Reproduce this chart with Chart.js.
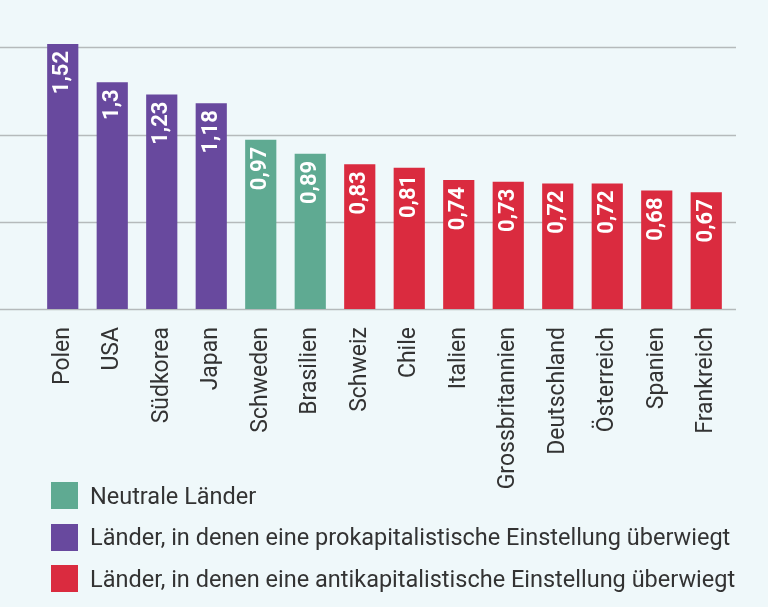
<!DOCTYPE html>
<html>
<head>
    <title>Einstellung zum Kapitalismus</title>
    <script src="https://cdn.jsdelivr.net/npm/chart.js@4.4.1/dist/chart.umd.min.js"></script>
    <style>
        body {
            margin: 0;
            background-color: #eff8fa;
            font-family: Roboto, "Noto Sans", sans-serif;
            color: #333;
        }
        .chart-wrapper {
            position: relative;
            width: 768px;
            height: 500px;
        }
        .legend {
            position: absolute;
            left: 51px;
            top: 482px;
        }
        .legend-item {
            display: flex;
            align-items: center;
            height: 27px;
            margin-bottom: 14.5px;
            font-size: 23.5px;
            color: #333;
        }
        .legend-box {
            width: 27px;
            height: 27px;
            margin-right: 12px;
        }
    </style>
</head>
<body>
    <div class="chart-wrapper">
        <canvas id="chart"></canvas>
    </div>
    <div class="legend" id="legend"></div>

    <script>
        // Data
        const countries = ['Polen', 'USA', 'Südkorea', 'Japan', 'Schweden', 'Brasilien', 'Schweiz', 'Chile',
            'Italien', 'Grossbritannien', 'Deutschland', 'Österreich', 'Spanien', 'Frankreich'];
        const values = [1.52, 1.3, 1.23, 1.18, 0.97, 0.89, 0.83, 0.81, 0.74, 0.73, 0.72, 0.72, 0.68, 0.67];
        const groups = ['pro', 'pro', 'pro', 'pro', 'neutral', 'neutral', 'anti', 'anti',
            'anti', 'anti', 'anti', 'anti', 'anti', 'anti'];
        const gridValues = [0, 0.5, 1, 1.5];

        const groupKeys = ['neutral', 'pro', 'anti'];
        const groupLabels = [
            'Neutrale Länder',
            'Länder, in denen eine prokapitalistische Einstellung überwiegt',
            'Länder, in denen eine antikapitalistische Einstellung überwiegt'
        ];
        const colors = { neutral: '#5faa92', pro: '#68499e', anti: '#da2b3f' };

        // gridlines run across the full width, wider than the bars
        const gridPlugin = {
            id: 'gridLines',
            beforeDatasetsDraw(chart) {
                const ctx = chart.ctx;
                const y = chart.scales.y;
                ctx.save();
                ctx.strokeStyle = '#b5babb';
                ctx.lineWidth = 1.5;
                gridValues.forEach(v => {
                    const py = Math.round(y.getPixelForValue(v)) + 0.5;
                    ctx.beginPath();
                    ctx.moveTo(0, py);
                    ctx.lineTo(736, py);
                    ctx.stroke();
                });
                ctx.restore();
            }
        };

        // rotated value labels inside the top of each bar
        const valueLabels = {
            id: 'valueLabels',
            afterDatasetsDraw(chart) {
                const ctx = chart.ctx;
                const meta = chart.getDatasetMeta(0);
                ctx.save();
                ctx.fillStyle = '#ffffff';
                ctx.font = 'bold 22px Roboto, "Noto Sans", sans-serif';
                ctx.textAlign = 'right';
                ctx.textBaseline = 'middle';
                meta.data.forEach((bar, i) => {
                    ctx.save();
                    ctx.translate(bar.x, bar.y + 7);
                    ctx.rotate(-Math.PI / 2);
                    ctx.fillText(values[i].toString().replace('.', ','), 0, 0);
                    ctx.restore();
                });
                ctx.restore();
            }
        };

        new Chart(document.getElementById('chart'), {
            type: 'bar',
            data: {
                labels: countries,
                datasets: [{
                    data: values,
                    backgroundColor: groups.map(g => colors[g]),
                    barPercentage: 0.63,
                    categoryPercentage: 1.0
                }]
            },
            options: {
                responsive: true,
                maintainAspectRatio: false,
                animation: false,
                layout: {
                    padding: { top: 30, left: 38, right: 37, bottom: 0 }
                },
                scales: {
                    x: {
                        grid: { display: false, drawTicks: false },
                        border: { display: false },
                        ticks: {
                            minRotation: 90,
                            maxRotation: 90,
                            padding: 18,
                            color: '#333',
                            font: { family: 'Roboto', size: 23 }
                        },
                        afterFit: (scale) => { scale.height = 191; }
                    },
                    y: {
                        display: false,
                        min: 0,
                        max: 1.6
                    }
                },
                plugins: {
                    legend: { display: false },
                    tooltip: { enabled: false }
                }
            },
            plugins: [gridPlugin, valueLabels]
        });

        // legend
        const legend = document.getElementById('legend');
        groupKeys.forEach((g, i) => {
            const item = document.createElement('div');
            item.className = 'legend-item';
            item.innerHTML = '<div class="legend-box" style="background:' + colors[g] + '"></div><span>' + groupLabels[i] + '</span>';
            legend.appendChild(item);
        });
    </script>
</body>
</html>
